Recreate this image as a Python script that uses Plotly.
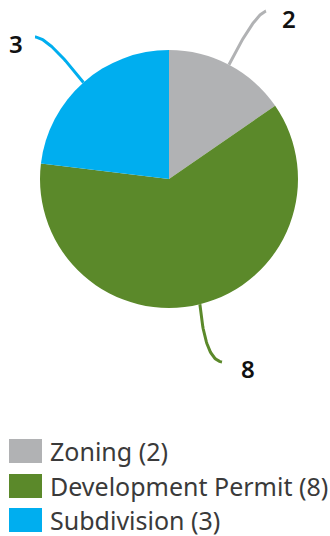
import math
import plotly.graph_objects as go

# Application counts by type
categories = ["Zoning", "Development Permit", "Subdivision"]
counts = [2, 8, 3]
colors = ["#b1b2b4", "#5b892a", "#00aeef"]

W, H = 330, 536
cx, cy, r = 169, 179, 129  # pie centre and radius in pixels

# Leader-line end points (pixels) and label offsets for each slice
leader_ends = [(266, 11), (222, 362), (35, 37)]
leader_ctrl = [(254, 15), (205, 360), (48, 37)]
label_pos = [(289, 18), (248, 368), (16, 43)]

fig = go.Figure()

fig.add_trace(go.Pie(
    labels=categories,
    values=counts,
    marker=dict(colors=colors, line=dict(width=0)),
    sort=False,
    direction="clockwise",
    rotation=0,
    textinfo="none",
    hoverinfo="label+value",
    showlegend=False,
    domain=dict(x=[(cx - r) / W, (cx + r) / W],
                y=[1 - (cy + r) / H, 1 - (cy - r) / H]),
))

# Leader lines start at the middle of each slice's outer edge
total = sum(counts)
start = 0.0
for i, v in enumerate(counts):
    mid = (start + v / 2) / total * 2 * math.pi
    start += v
    x0 = cx + r * math.sin(mid)
    y0 = cy - r * math.cos(mid)
    (x2, y2), (x1, y1) = leader_ends[i], leader_ctrl[i]
    ts = [k / 40 for k in range(41)]
    xs = [(1 - t) ** 2 * x0 + 2 * (1 - t) * t * x1 + t ** 2 * x2 for t in ts]
    ys = [(1 - t) ** 2 * y0 + 2 * (1 - t) * t * y1 + t ** 2 * y2 for t in ts]
    fig.add_trace(go.Scatter(x=xs, y=ys, mode="lines",
                             line=dict(color=colors[i], width=3, shape="linear"),
                             hoverinfo="skip", showlegend=False))
    lx, ly = label_pos[i]
    fig.add_annotation(x=lx, y=ly, text=str(v), showarrow=False,
                       xanchor="center", yanchor="middle",
                       font=dict(family="Noto Sans", size=24, color="#111111", weight=600))

# Legend: coloured squares with category names and counts
leg_top = [439, 474, 508]
for i, cat in enumerate(categories):
    y = leg_top[i]
    fig.add_shape(type="rect", xref="x", yref="y", x0=9, x1=42, y0=y, y1=y + 24,
                  fillcolor=colors[i], line=dict(width=0))
    fig.add_annotation(x=48, y=y + 12, text=f"{cat} ({counts[i]})", showarrow=False,
                       xanchor="left", yanchor="middle",
                       font=dict(family="Noto Sans", size=25, color="#3a3a3a"))

fig.update_layout(
    width=W, height=H,
    margin=dict(l=0, r=0, t=0, b=0),
    paper_bgcolor="white", plot_bgcolor="rgba(0,0,0,0)",
    xaxis=dict(range=[0, W], visible=False, fixedrange=True),
    yaxis=dict(range=[H, 0], visible=False, fixedrange=True),
)

fig.write_html("out.html")
